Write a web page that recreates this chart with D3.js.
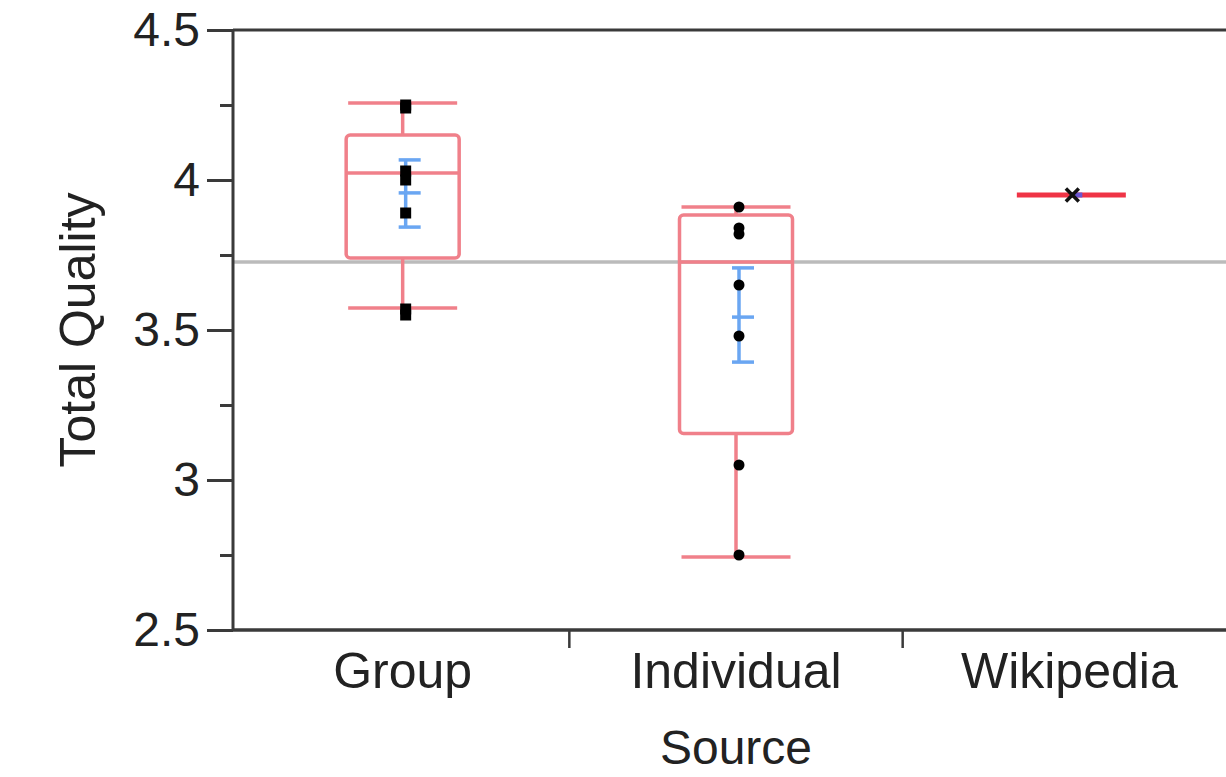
<!DOCTYPE html>
<html>
<head>
<meta charset="utf-8">
<script src="https://cdn.jsdelivr.net/npm/d3@7"></script>
<style>
  html, body { margin: 0; padding: 0; background: #fff; }
  svg { display: block; }
  text { font-family: "Liberation Sans", Arial, Helvetica, sans-serif; fill: #222; }
</style>
</head>
<body>
<svg id="chart" width="1226" height="777"></svg>
<script>
// ---- data ----
const categories = ["Group", "Individual", "Wikipedia"];
const q1 = [3.74, 3.155, 3.95];
const medians = [4.023, 3.727, 3.95];
const q3 = [4.15, 3.883, 3.95];
const whiskerLow = [3.573, 2.743, 3.95];
const whiskerHigh = [4.257, 3.91, 3.95];
const means = [3.957, 3.543, 3.95];
const ciLow = [3.843, 3.393, null];
const ciHigh = [4.067, 3.707, null];
const groupPoints = [4.25, 4.24, 4.03, 4.0, 3.89, 3.57, 3.55];
const individualPoints = [3.91, 3.84, 3.82, 3.65, 3.48, 3.05, 2.75];
const wikipediaPoints = [3.95];
const grandMean = 3.727;
const yMajorTicks = [2.5, 3, 3.5, 4, 4.5];
const yMinorTicks = [2.75, 3.25, 3.75, 4.25];
const xTitle = "Source";
const yTitle = "Total Quality";

const allPoints = [groupPoints, individualPoints, wikipediaPoints];

// ---- layout ----
const svg = d3.select("#chart");
const axisX = 233, plotTop = 30, plotBottom = 630, plotRight = 1226;
const y = d3.scaleLinear().domain([2.5, 4.5]).range([plotBottom, plotTop]);
const x = d3.scaleBand().domain(categories).range([236, 1236]).padding(0);
const cx = c => x(c) + x.bandwidth() / 2;

const boxColor = "#f0808a";
const boxW = 113, capW = 109, sw = 3.5;

// grand mean line
svg.append("line")
  .attr("x1", axisX).attr("x2", plotRight)
  .attr("y1", y(grandMean)).attr("y2", y(grandMean))
  .attr("stroke", "#bbbbbb").attr("stroke-width", 3.5);

// boxes
categories.forEach((c, i) => {
  const xc = cx(c);
  const g = svg.append("g");
  if (q1[i] === q3[i]) {
    g.append("line")
      .attr("x1", xc - capW / 2 + 2).attr("x2", xc + capW / 2 + 2)
      .attr("y1", y(medians[i])).attr("y2", y(medians[i]))
      .attr("stroke", "#ef3446").attr("stroke-width", 5);
    return;
  }
  g.append("line").attr("x1", xc).attr("x2", xc)
    .attr("y1", y(q3[i])).attr("y2", y(whiskerHigh[i]))
    .attr("stroke", boxColor).attr("stroke-width", sw);
  g.append("line").attr("x1", xc).attr("x2", xc)
    .attr("y1", y(q1[i])).attr("y2", y(whiskerLow[i]))
    .attr("stroke", boxColor).attr("stroke-width", sw);
  [whiskerHigh[i], whiskerLow[i]].forEach(v => {
    g.append("line").attr("x1", xc - capW / 2).attr("x2", xc + capW / 2)
      .attr("y1", y(v)).attr("y2", y(v))
      .attr("stroke", boxColor).attr("stroke-width", sw);
  });
  g.append("rect")
    .attr("x", xc - boxW / 2).attr("width", boxW)
    .attr("y", y(q3[i])).attr("height", y(q1[i]) - y(q3[i]))
    .attr("rx", 4).attr("ry", 4)
    .attr("fill", "none").attr("stroke", boxColor).attr("stroke-width", sw);
  g.append("line").attr("x1", xc - boxW / 2).attr("x2", xc + boxW / 2)
    .attr("y1", y(medians[i])).attr("y2", y(medians[i]))
    .attr("stroke", boxColor).attr("stroke-width", sw);
});

// mean / CI bars (blue)
const blue = "#6aa6f2";
categories.forEach((c, i) => {
  if (ciLow[i] === null) return;
  const xc = cx(c) + 3;
  const g = svg.append("g");
  g.append("line").attr("x1", xc).attr("x2", xc)
    .attr("y1", y(ciHigh[i])).attr("y2", y(ciLow[i]))
    .attr("stroke", blue).attr("stroke-width", 3.5);
  [ciHigh[i], means[i], ciLow[i]].forEach(v => {
    g.append("line").attr("x1", xc - 7).attr("x2", xc + 15)
      .attr("y1", y(v)).attr("y2", y(v))
      .attr("stroke", blue).attr("stroke-width", 3.5);
  });
});

// points
allPoints.forEach((pts, i) => {
  const c = categories[i];
  const xc = cx(c) + 3;
  if (i === 0) {
    svg.append("g").selectAll("rect").data(pts).join("rect")
      .attr("x", xc - 5.5).attr("width", 11)
      .attr("y", d => y(d) - 5.5).attr("height", 11)
      .attr("fill", "#000");
  } else if (i === 1) {
    svg.append("g").selectAll("circle").data(pts).join("circle")
      .attr("cx", xc).attr("cy", d => y(d)).attr("r", 5.5)
      .attr("fill", "#000");
  } else {
    const g = svg.append("g");
    g.append("line").attr("x1", xc - 2).attr("x2", xc + 10)
      .attr("y1", y(means[i])).attr("y2", y(means[i]))
      .attr("stroke", "#6a55d0").attr("stroke-width", 5);
    g.selectAll("path").data(pts).join("path")
      .attr("d", d3.symbol().type(d3.symbolX).size(110)())
      .attr("transform", d => `translate(${xc},${y(d)})`)
      .attr("fill", "none").attr("stroke", "#111").attr("stroke-width", 3.5);
  }
});

// ---- axes ----
const axisColor = "#3a3a3a";
const yAxis = svg.append("g").attr("transform", `translate(${axisX},0)`)
  .call(d3.axisLeft(y).tickValues(yMajorTicks).tickSize(26).tickPadding(7)
    .tickFormat(d3.format("")));
yAxis.select(".domain").remove();
yAxis.selectAll(".tick line").attr("stroke", axisColor).attr("stroke-width", 3);
yAxis.selectAll(".tick text").attr("font-size", 48).style("fill", "#222");

const yMinor = svg.append("g").attr("transform", `translate(${axisX},0)`)
  .call(d3.axisLeft(y).tickValues(yMinorTicks).tickSize(13).tickFormat(""));
yMinor.select(".domain").remove();
yMinor.selectAll(".tick line").attr("stroke", axisColor).attr("stroke-width", 3);

// frame lines
svg.append("line").attr("x1", axisX).attr("x2", axisX)
  .attr("y1", plotTop).attr("y2", plotBottom)
  .attr("stroke", axisColor).attr("stroke-width", 3);
svg.append("line").attr("x1", axisX).attr("x2", plotRight)
  .attr("y1", plotTop).attr("y2", plotTop)
  .attr("stroke", axisColor).attr("stroke-width", 3);
svg.append("line").attr("x1", axisX).attr("x2", plotRight)
  .attr("y1", plotBottom).attr("y2", plotBottom)
  .attr("stroke", axisColor).attr("stroke-width", 3.5);

// x axis labels
const xAxis = svg.append("g").attr("transform", `translate(0,${plotBottom})`)
  .call(d3.axisBottom(x).tickSize(0).tickPadding(22));
xAxis.select(".domain").remove();
xAxis.selectAll(".tick text").attr("font-size", 50).style("fill", "#222");

// category boundary ticks
svg.append("g").selectAll("line").data(categories.slice(1)).join("line")
  .attr("x1", d => x(d)).attr("x2", d => x(d))
  .attr("y1", plotBottom).attr("y2", plotBottom + 18)
  .attr("stroke", axisColor).attr("stroke-width", 2.5);

// titles
svg.append("text").attr("x", 736).attr("y", 764)
  .attr("text-anchor", "middle").attr("font-size", 48).text(xTitle);
svg.append("text").attr("transform", "translate(95,330) rotate(-90)")
  .attr("text-anchor", "middle").attr("font-size", 50).text(yTitle);
</script>
</body>
</html>
